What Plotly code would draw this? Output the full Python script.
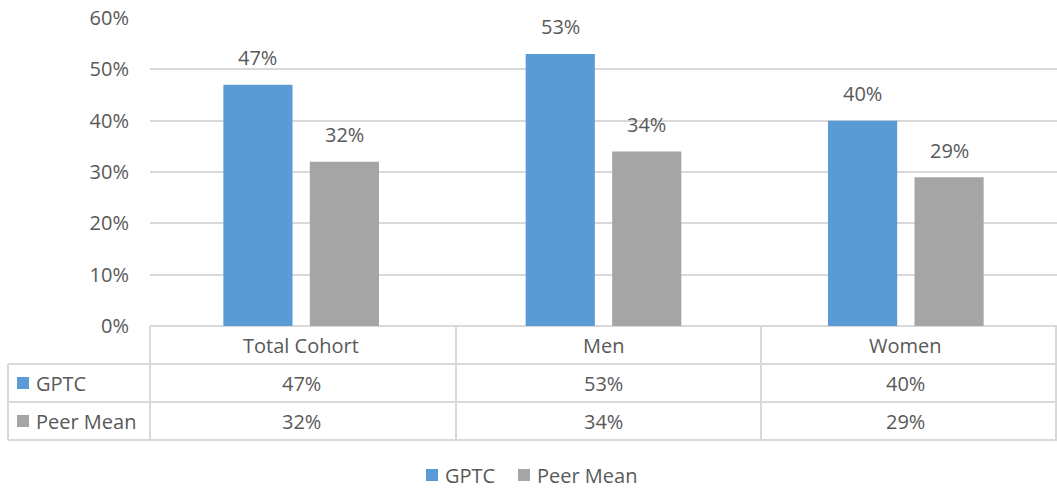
import plotly.graph_objects as go

categories = ["Total Cohort", "Men", "Women"]
series_names = ["GPTC", "Peer Mean"]
gptc = [0.47, 0.53, 0.40]
peer = [0.32, 0.34, 0.29]
y_ticks = [0, 0.1, 0.2, 0.3, 0.4, 0.5, 0.6]

colors = ["#5B9BD5", "#A5A5A5"]
txt = "#595959"
line = "#D9D9D9"
FONT = "Open Sans"
FS = 20

W, H = 1057, 489
L, R, T, B = 150, 0, 18, 163
plot_h = H - T - B

def py(p):  # pixel y -> paper y
    return (H - B - p) / plot_h

def px(p):  # pixel x -> paper x
    return (p - L) / (W - L - R)

bargap = 0.428
bargroupgap = 0.2

fig = go.Figure()
all_series = [gptc, peer]
for name, vals, c in zip(series_names, all_series, colors):
    fig.add_trace(go.Bar(x=categories, y=vals, name=name, marker_color=c,
                         marker_line_width=0, hoverinfo="skip", showlegend=False))

annotations = []
slot = (1 - bargap) / 2
for si, vals in enumerate(all_series):
    off = (si - 0.5) * slot
    for ci, v in enumerate(vals):
        annotations.append(dict(x=ci + off, y=v, xref="x", yref="y",
                                text=f"{round(v*100)}%", showarrow=False,
                                yanchor="middle", yshift=27,
                                font=dict(family=FONT, size=FS, color=txt)))

# table rows
row_header, row1, row2, row_end = 326, 364, 402, 440
col_edges = [150, 456, 761, 1057]
shapes = []
def hline(y, x0, x1):
    shapes.append(dict(type="line", xref="paper", yref="paper", x0=px(x0), x1=px(x1),
                       y0=py(y), y1=py(y), line=dict(color=line, width=2)))
def vline(x, y0, y1):
    shapes.append(dict(type="line", xref="paper", yref="paper", x0=px(x), x1=px(x),
                       y0=py(y0), y1=py(y1), line=dict(color=line, width=2)))
for y in [row1, row2, row_end]:
    hline(y, 8, W)
for x in col_edges[:-1]:
    vline(x, row_header, row_end)
vline(8, row1, row_end)
vline(W - 1, row_header, row_end)

for ci, cat in enumerate(categories):
    annotations.append(dict(x=ci, y=py((row_header + row1) / 2), xref="x", yref="paper",
                            text=cat, showarrow=False, yanchor="middle",
                            font=dict(family=FONT, size=FS, color=txt)))
for ri, (name, vals, c) in enumerate(zip(series_names, all_series, colors)):
    top = [row1, row2][ri]
    mid = top + 19
    for ci, v in enumerate(vals):
        annotations.append(dict(x=ci, y=py(mid), xref="x", yref="paper",
                                text=f"{round(v*100)}%", showarrow=False, yanchor="middle",
                                font=dict(family=FONT, size=FS, color=txt)))
    shapes.append(dict(type="rect", xref="paper", yref="paper", x0=px(17), x1=px(29),
                       y0=py(mid - 6), y1=py(mid + 6), fillcolor=c, line=dict(width=0)))
    annotations.append(dict(x=px(34), y=py(mid), xref="paper", yref="paper",
                            text=name, showarrow=False, xanchor="left", yanchor="middle",
                            font=dict(family=FONT, size=FS, color=txt)))

# bottom legend (drawn manually)
leg_y = 475
leg_sq_x = [426, 518]
for name, c, sx in zip(series_names, colors, leg_sq_x):
    shapes.append(dict(type="rect", xref="paper", yref="paper", x0=px(sx), x1=px(sx + 12),
                       y0=py(leg_y - 6), y1=py(leg_y + 6), fillcolor=c, line=dict(width=0)))
    annotations.append(dict(x=px(sx + 17), y=py(leg_y), xref="paper", yref="paper",
                            text=name, showarrow=False, xanchor="left", yanchor="middle",
                            font=dict(family=FONT, size=FS, color=txt)))

fig.update_layout(
    width=W, height=H,
    margin=dict(l=L, r=R, t=T, b=B),
    paper_bgcolor="white", plot_bgcolor="white",
    barmode="group", bargap=bargap, bargroupgap=bargroupgap,
    font=dict(family=FONT, size=FS, color=txt),
    showlegend=False,
    xaxis=dict(showticklabels=False, showline=False, ticks="", showgrid=False,
               fixedrange=True),
    yaxis=dict(range=[0, 0.6], tickvals=y_ticks, tickformat=".0%", showgrid=True,
               gridcolor=line, gridwidth=1.5, zeroline=True, zerolinecolor=line,
               zerolinewidth=2, showline=False, ticks="", ticklabelstandoff=20,
               tickfont=dict(family=FONT, size=FS, color=txt)),
    shapes=shapes, annotations=annotations,
)

fig.write_html("out.html", config={"displayModeBar": False},
               post_script="document.body.style.margin='0';")
